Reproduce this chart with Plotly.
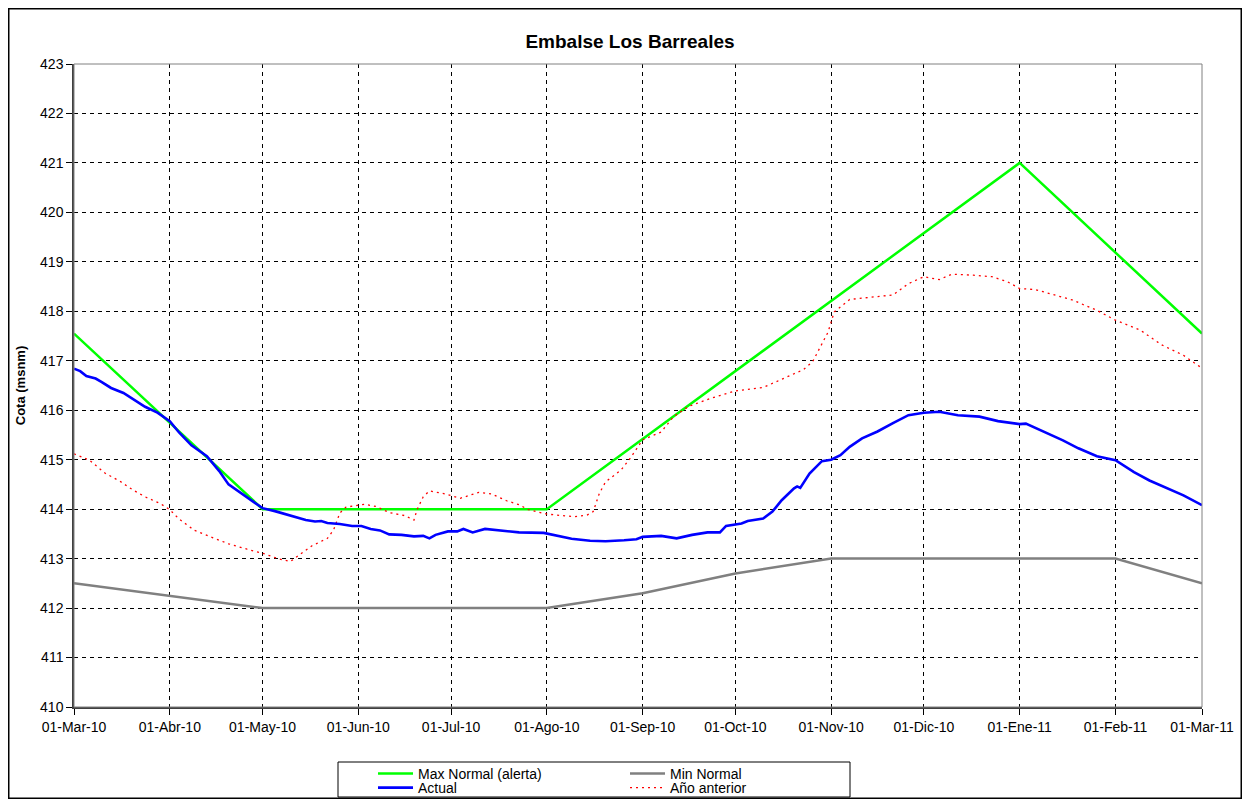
import plotly.graph_objects as go

# ---- Data ----
max_dates = ["2010-03-01", "2010-05-01", "2010-08-01", "2011-01-01", "2011-03-01"]
max_vals = [417.55, 414.0, 414.0, 421.0, 417.55]

min_dates = ["2010-03-01", "2010-05-01", "2010-08-01", "2010-09-01", "2010-10-01",
             "2010-11-01", "2011-02-01", "2011-03-01"]
min_vals = [412.5, 412.0, 412.0, 412.3, 412.7, 413.0, 413.0, 412.5]

act_dates = ["2010-03-01", "2010-03-03", "2010-03-05", "2010-03-08", "2010-03-10", "2010-03-13",
             "2010-03-17", "2010-03-20", "2010-03-24", "2010-03-28", "2010-04-01", "2010-04-04",
             "2010-04-08", "2010-04-13", "2010-04-17", "2010-04-20", "2010-04-24", "2010-04-28",
             "2010-05-01", "2010-05-05", "2010-05-10", "2010-05-15", "2010-05-18", "2010-05-20",
             "2010-05-22", "2010-05-26", "2010-05-30", "2010-06-02", "2010-06-05", "2010-06-08",
             "2010-06-11", "2010-06-15", "2010-06-19", "2010-06-22", "2010-06-24", "2010-06-26",
             "2010-06-30", "2010-07-03", "2010-07-05", "2010-07-08", "2010-07-12", "2010-07-17",
             "2010-07-23", "2010-07-31", "2010-08-04", "2010-08-09", "2010-08-15", "2010-08-20",
             "2010-08-26", "2010-08-30", "2010-09-01", "2010-09-07", "2010-09-12", "2010-09-17",
             "2010-09-22", "2010-09-26", "2010-09-28", "2010-10-03", "2010-10-05", "2010-10-10",
             "2010-10-13", "2010-10-16", "2010-10-20", "2010-10-21", "2010-10-22", "2010-10-25",
             "2010-10-29", "2010-11-01", "2010-11-04", "2010-11-07", "2010-11-11", "2010-11-16",
             "2010-11-21", "2010-11-26", "2010-12-01", "2010-12-06", "2010-12-12", "2010-12-19",
             "2010-12-25", "2011-01-01", "2011-01-03", "2011-01-09", "2011-01-15", "2011-01-20",
             "2011-01-26", "2011-02-01", "2011-02-07", "2011-02-12", "2011-02-18", "2011-02-23",
             "2011-03-01"]
act_vals = [416.84, 416.79, 416.69, 416.64, 416.57, 416.45,
            416.35, 416.23, 416.07, 415.95, 415.78, 415.55,
            415.29, 415.07, 414.77, 414.50, 414.33, 414.16,
            414.02, 413.96, 413.87, 413.78, 413.75, 413.76,
            413.72, 413.70, 413.66, 413.66, 413.60, 413.57,
            413.49, 413.48, 413.45, 413.46, 413.41, 413.48,
            413.55, 413.55, 413.60, 413.53, 413.60, 413.57,
            413.53, 413.52, 413.46, 413.40, 413.36, 413.35,
            413.37, 413.39, 413.44, 413.46, 413.41, 413.48,
            413.53, 413.53, 413.66, 413.71, 413.76, 413.81,
            413.95, 414.18, 414.42, 414.46, 414.43, 414.72,
            414.97, 415.00, 415.09, 415.26, 415.43, 415.57,
            415.74, 415.90, 415.95, 415.97, 415.90, 415.87,
            415.78, 415.72, 415.73, 415.56, 415.39, 415.23,
            415.07, 414.99, 414.75, 414.58, 414.42, 414.28,
            414.08]

prev_dates = ["2010-03-01", "2010-03-06", "2010-03-11", "2010-03-16", "2010-03-20", "2010-03-24",
              "2010-03-29", "2010-04-01", "2010-04-04", "2010-04-09", "2010-04-15", "2010-04-20",
              "2010-04-26", "2010-05-01", "2010-05-06", "2010-05-10", "2010-05-13", "2010-05-17",
              "2010-05-22", "2010-05-24", "2010-05-26", "2010-05-28", "2010-06-03", "2010-06-07",
              "2010-06-11", "2010-06-16", "2010-06-19", "2010-06-20", "2010-06-22", "2010-06-24",
              "2010-06-29", "2010-07-04", "2010-07-10", "2010-07-14", "2010-07-19", "2010-07-23",
              "2010-07-26", "2010-08-01", "2010-08-06", "2010-08-10", "2010-08-14", "2010-08-16",
              "2010-08-18", "2010-08-20", "2010-08-25", "2010-08-28", "2010-09-01", "2010-09-07",
              "2010-09-11", "2010-09-16", "2010-09-23", "2010-10-01", "2010-10-10", "2010-10-16",
              "2010-10-23", "2010-10-26", "2010-10-28", "2010-10-31", "2010-11-02", "2010-11-07",
              "2010-11-13", "2010-11-21", "2010-11-26", "2010-12-01", "2010-12-06", "2010-12-10",
              "2010-12-17", "2010-12-23", "2010-12-28", "2011-01-01", "2011-01-06", "2011-01-12",
              "2011-01-18", "2011-01-26", "2011-02-01", "2011-02-09", "2011-02-16", "2011-02-23",
              "2011-03-01"]
prev_vals = [415.12, 414.99, 414.73, 414.56, 414.39, 414.25,
             414.11, 413.99, 413.80, 413.57, 413.42, 413.30,
             413.19, 413.11, 413.00, 412.94, 413.08, 413.26,
             413.41, 413.58, 413.92, 414.04, 414.10, 414.05,
             413.93, 413.87, 413.78, 413.99, 414.25, 414.37,
             414.31, 414.22, 414.34, 414.31, 414.17, 414.09,
             413.99, 413.90, 413.87, 413.85, 413.88, 413.95,
             414.32, 414.55, 414.79, 415.03, 415.40, 415.56,
             415.87, 416.08, 416.24, 416.39, 416.46, 416.62,
             416.82, 416.98, 417.22, 417.58, 417.99, 418.24,
             418.28, 418.33, 418.56, 418.70, 418.64, 418.75,
             418.73, 418.70, 418.60, 418.46, 418.44, 418.34,
             418.23, 418.02, 417.82, 417.62, 417.32, 417.11,
             416.85]

tick_dates = ["2010-03-01", "2010-04-01", "2010-05-01", "2010-06-01", "2010-07-01", "2010-08-01",
              "2010-09-01", "2010-10-01", "2010-11-01", "2010-12-01", "2011-01-01", "2011-02-01",
              "2011-03-01"]
tick_labels = ["01-Mar-10", "01-Abr-10", "01-May-10", "01-Jun-10", "01-Jul-10", "01-Ago-10",
               "01-Sep-10", "01-Oct-10", "01-Nov-10", "01-Dic-10", "01-Ene-11", "01-Feb-11",
               "01-Mar-11"]
y_ticks = list(range(410, 424))

FONT = "Arial, Liberation Sans, sans-serif"

fig = go.Figure()
fig.add_trace(go.Scatter(x=max_dates, y=max_vals, mode="lines", name="Max Normal (alerta)",
                         line=dict(color="#00FF00", width=2.5), legend="legend", legendrank=1))
fig.add_trace(go.Scatter(x=min_dates, y=min_vals, mode="lines", name="Min Normal",
                         line=dict(color="#808080", width=2.5), legend="legend", legendrank=2))
fig.add_trace(go.Scatter(x=prev_dates, y=prev_vals, mode="lines", name="Año anterior",
                         line=dict(color="#FF0000", width=1.3, dash="2px,4px"),
                         legend="legend2", legendrank=4))
fig.add_trace(go.Scatter(x=act_dates, y=act_vals, mode="lines", name="Actual",
                         line=dict(color="#0000FF", width=2.6), legend="legend2", legendrank=3))

# The page body has an 8px margin: figure pixel = window pixel - 8
OFF = 8
W, H = 1234, 791
L, T = 74 - OFF, 64 - OFF
R = W - (1202 - OFF)
B = H - (707 - OFF)
pw, ph = W - L - R, H - T - B


def px_x(wx):
    return (wx - OFF - L) / pw


def px_y(wy):
    return (H - B - (wy - OFF)) / ph


def cx(wx):
    return (wx - OFF) / W


def cy(wy):
    return 1 - (wy - OFF) / H


legend_common = dict(orientation="h", xanchor="left", yanchor="top",
                     xref="container", yref="container",
                     font=dict(family=FONT, size=14, color="#000"),
                     entrywidth=202, entrywidthmode="pixels",
                     bgcolor="rgba(0,0,0,0)", borderwidth=0,
                     itemwidth=35, tracegroupgap=0)

fig.update_layout(
    width=W, height=H,
    margin=dict(l=L, r=R, t=T, b=B, autoexpand=False),
    paper_bgcolor="white", plot_bgcolor="white",
    font=dict(family=FONT, size=14, color="#000"),
    title=dict(text="<b>Embalse Los Barreales</b>", x=px_x(630), xref="paper",
               xanchor="center", y=cy(41), yanchor="middle",
               font=dict(family=FONT, size=19, color="#000")),
    legend=dict(x=cx(373), y=cy(758), **legend_common),
    legend2=dict(x=cx(373), y=cy(772), **legend_common),
    showlegend=True,
    shapes=[
        dict(type="rect", xref="paper", yref="paper",
             x0=px_x(338), x1=px_x(850), y0=px_y(797), y1=px_y(762),
             line=dict(color="#000", width=1), layer="below"),
        dict(type="rect", xref="paper", yref="paper",
             x0=px_x(8.75), x1=px_x(8 + W - 0.75), y0=px_y(8 + H - 0.75), y1=px_y(8.75),
             line=dict(color="#000", width=1.5), layer="below"),
        dict(type="rect", xref="paper", yref="paper",
             x0=0, x1=1, y0=0, y1=1,
             line=dict(color="#808080", width=1), layer="above"),
    ],
)

fig.update_xaxes(
    type="date", range=["2010-03-01", "2011-03-01"],
    tickmode="array", tickvals=tick_dates, ticktext=tick_labels,
    ticks="outside", ticklen=6, tickcolor="#000", tickwidth=1,
    showgrid=True, gridcolor="#000", gridwidth=1, griddash="4px,4px",
    showline=True, linecolor="#404040", linewidth=1.5,
    zeroline=False, tickfont=dict(family=FONT, size=14, color="#000"),
)
fig.update_yaxes(
    range=[410, 423], tickmode="array", tickvals=y_ticks,
    ticks="outside", ticklen=6, tickcolor="#000", tickwidth=1,
    showgrid=True, gridcolor="#000", gridwidth=1, griddash="4px,4px",
    showline=True, linecolor="#404040", linewidth=1.5,
    zeroline=False, tickfont=dict(family=FONT, size=14, color="#000"),
    title=dict(text="<b>Cota (msnm)</b>", standoff=12,
               font=dict(family=FONT, size=13, color="#000")),
)

fig.write_html("out.html")
